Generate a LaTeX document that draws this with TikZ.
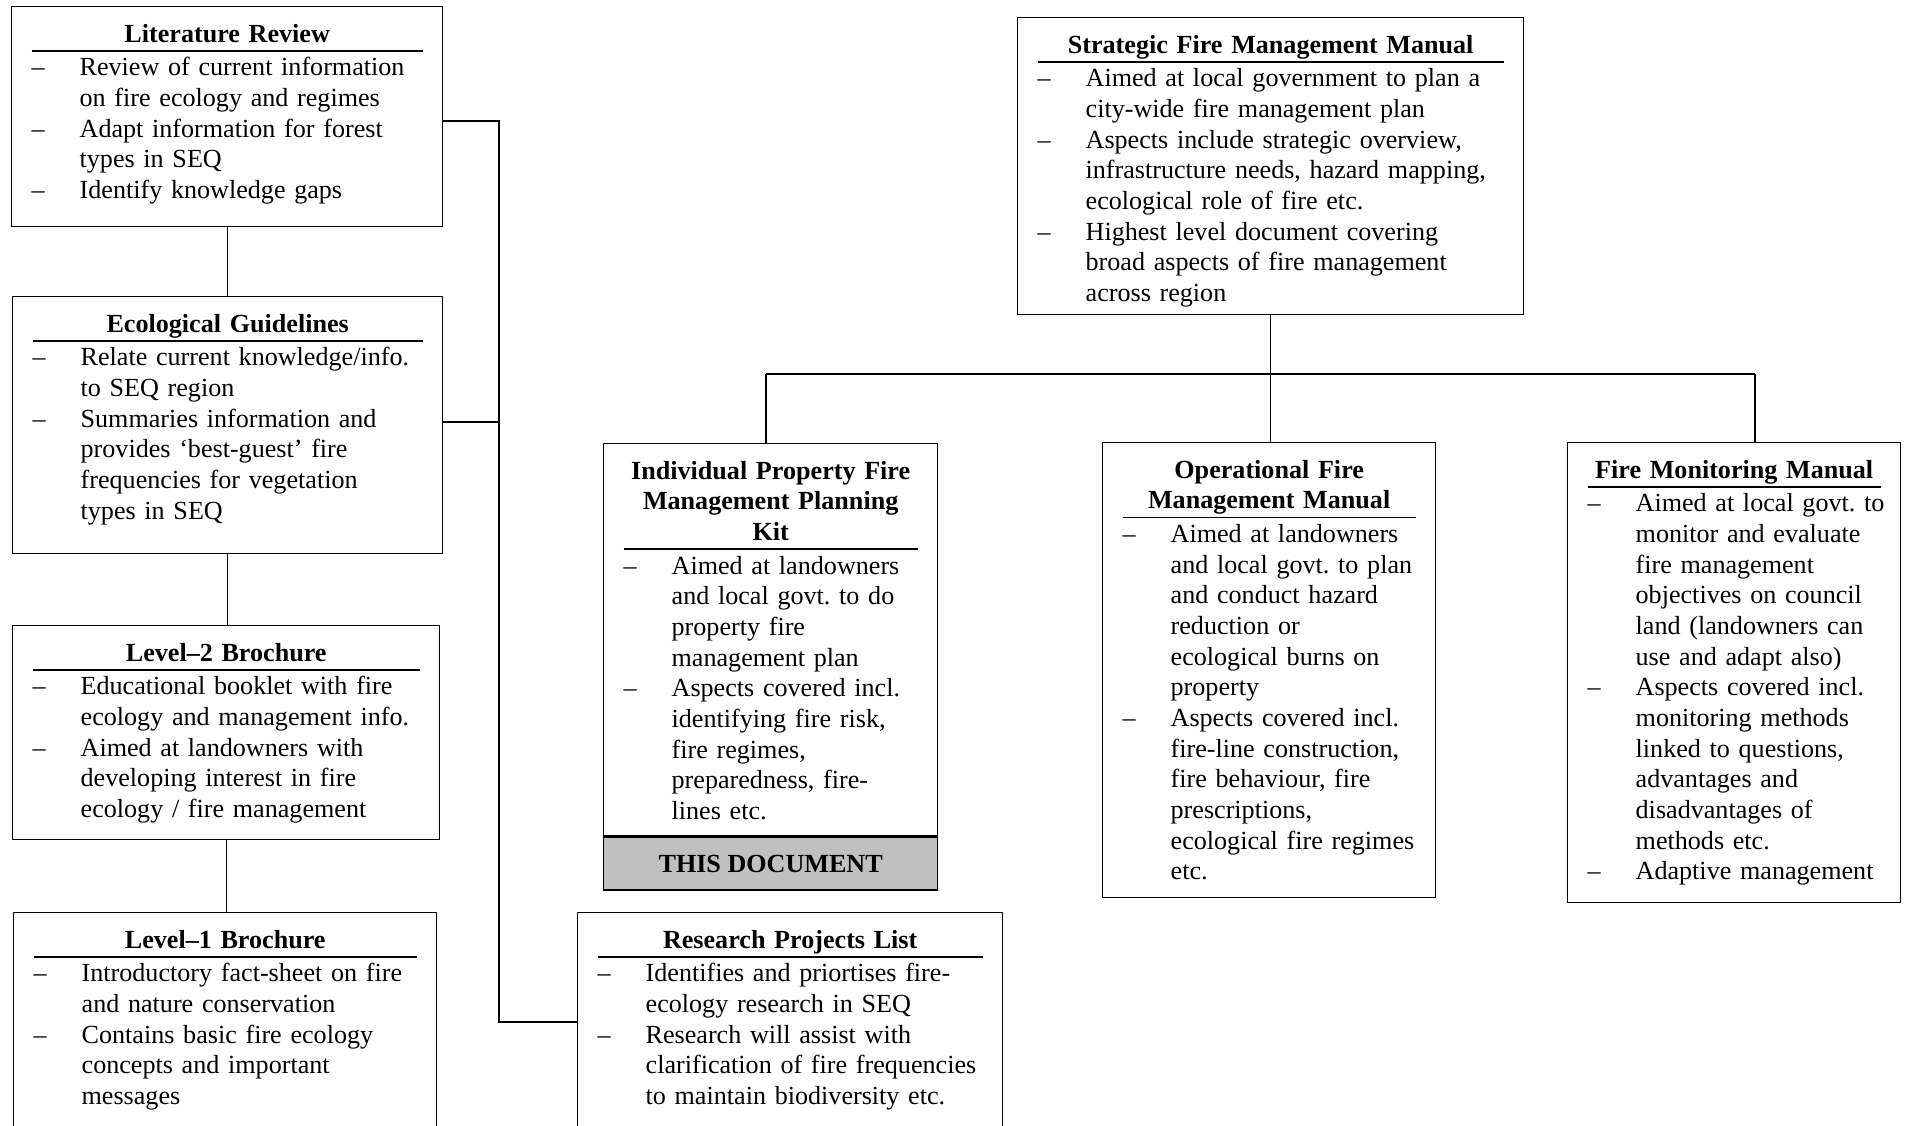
\documentclass[tikz,border=0pt]{standalone}
\usepackage{fontspec}
\setmainfont{Liberation Serif}
\usepackage{xcolor}
\usepackage{tikz}
\usetikzlibrary{positioning,calc}
\definecolor{clrDoc}{RGB}{192,192,192}
\newlength{\dashind}
\setlength{\dashind}{21.6pt}
\newcommand{\boxhead}[1]{{\centering\bfseries #1\par}%
  \vskip\dimexpr3.55pt-\prevdepth\relax
  \hrule height 0.7pt
  \vskip -2.9pt\prevdepth=0pt}
\newcommand{\dashitem}[1]{\par\noindent\hangindent=\dashind\hangafter=1
  \rightskip=-8pt plus 1fil
  \makebox[\dashind][l]{\textendash}#1\par}
\tikzset{
  docbox/.style={rectangle,draw,line width=0.6pt,anchor=north west,
    inner xsep=9pt,inner ysep=0pt,text height=16pt,
    font=\fontsize{11.75}{13.8}\selectfont\frenchspacing},
  tagbox/.style={rectangle,draw,line width=0.6pt,fill=clrDoc,inner sep=0pt,
    font=\fontsize{11.75}{13.8}\selectfont\bfseries},
  link/.style={line width=0.5pt}
}

\begin{document}
\begin{tikzpicture}[x=0.45pt,y=-0.45pt]
  \useasboundingbox (0,0) rectangle (1905,1126);
  \node[docbox,text width=175.95pt,text depth=83.03pt] (lit) at (11,6)
    {\boxhead{Literature Review}
     \dashitem{Review of current information\newline on fire ecology and regimes}
     \dashitem{Adapt information for forest\newline types in SEQ}
     \dashitem{Identify knowledge gaps}};
  \node[docbox,text width=175.5pt,text depth=99.68pt] (eco) at (12,296)
    {\boxhead{Ecological Guidelines}
     \dashitem{Relate current knowledge/info.\newline to SEQ region}
     \dashitem{Summaries information and\newline provides ‘best-guest’ fire\newline frequencies for vegetation\newline types in SEQ}};
  \node[docbox,text width=174.15pt,text depth=80.33pt] (lvl2) at (12,625)
    {\boxhead{Level--2 Brochure}
     \dashitem{Educational booklet with fire\newline ecology and management info.}
     \dashitem{Aimed at landowners with\newline developing interest in fire\newline ecology / fire management}};
  \node[docbox,text width=172.35pt,text depth=86.63pt] (lvl1) at (13,912)
    {\boxhead{Level--1 Brochure}
     \dashitem{Introductory fact-sheet on fire\newline and nature conservation}
     \dashitem{Contains basic fire ecology\newline concepts and important\newline messages}};
  \node[docbox,text width=173.25pt,text depth=86.63pt] (research) at (577,912)
    {\boxhead{Research Projects List}
     \dashitem{Identifies and priortises fire-\newline ecology research in SEQ}
     \dashitem{Research will assist with\newline clarification of fire frequencies\newline to maintain biodiversity etc.}};
  \node[docbox,text width=209.7pt,text depth=117.68pt] (strategic) at (1017,17)
    {\boxhead{Strategic Fire Management Manual}
     \dashitem{Aimed at local government to plan a\newline city-wide fire management plan}
     \dashitem{Aspects include strategic overview,\newline infrastructure needs, hazard mapping,\newline ecological role of fire etc.}
     \dashitem{Highest level document covering\newline broad aspects of fire management\newline across region}};
  \node[docbox,text width=132.3pt,text depth=160.43pt] (kit) at (603,443)
    {\boxhead{Individual Property Fire\\Management Planning\\Kit}
     \dashitem{Aimed at landowners\newline and local govt. to do\newline property fire\newline management plan}
     \dashitem{Aspects covered incl.\newline identifying fire risk,\newline fire regimes,\newline preparedness, fire-\newline lines etc.}};
  \node[tagbox,below=0pt of kit,minimum width=150.3pt,minimum height=23.85pt] (thisdoc)
    {THIS DOCUMENT};
  \node[docbox,text width=131.85pt,text depth=188.78pt] (oper) at (1102,442)
    {\boxhead{Operational Fire\\Management Manual}
     \dashitem{Aimed at landowners\newline and local govt. to plan\newline and conduct hazard\newline reduction or\newline ecological burns on\newline property}
     \dashitem{Aspects covered incl.\newline fire-line construction,\newline fire behaviour, fire\newline prescriptions,\newline ecological fire regimes\newline etc.}};
  \node[docbox,text width=131.85pt,text depth=191.03pt] (monitor) at (1567,442)
    {\boxhead{Fire Monitoring Manual}
     \dashitem{Aimed at local govt. to\newline monitor and evaluate\newline fire management\newline objectives on council\newline land (landowners can\newline use and adapt also)}
     \dashitem{Aspects covered incl.\newline monitoring methods\newline linked to questions,\newline advantages and\newline disadvantages of\newline methods etc.}
     \dashitem{Adaptive management}};
  \coordinate (litJoin) at (499,121);
  \coordinate (ecoJoin) at (499,422);
  \coordinate (resJoin) at (499,1022);
  \coordinate (treeL) at (766,374);
  \coordinate (treeR) at (1755,374);
  \draw[link] (lit.south) -- (lit.south |- eco.north);
  \draw[link] (eco.south) -- (eco.south |- lvl2.north);
  \draw[link] (lvl2.south) -- (lvl2.south |- lvl1.north);
  \draw[link] (lit.east |- litJoin) -- (litJoin) -- (resJoin) -- (resJoin -| research.west);
  \draw[link] (eco.east |- ecoJoin) -- (ecoJoin);
  \draw[link] (strategic.south) -- (strategic.south |- oper.north);
  \draw[link] (treeL) -- (treeR);
  \draw[link] (treeL) -- (treeL |- kit.north);
  \draw[link] (treeR) -- (treeR |- monitor.north);
\end{tikzpicture}
\end{document}
